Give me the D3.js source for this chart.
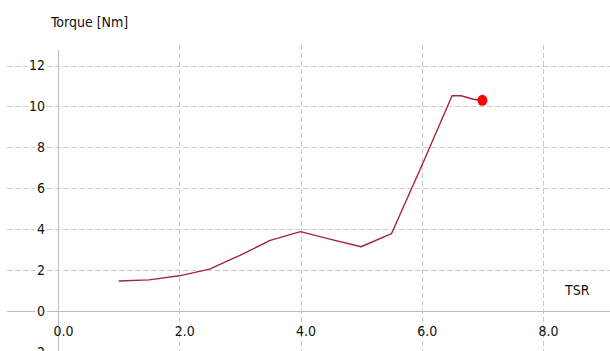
<!DOCTYPE html>
<html>
<head>
<meta charset="utf-8">
<script src="https://cdn.jsdelivr.net/npm/d3@7"></script>
<style>
  html, body { margin: 0; padding: 0; background: #fff; }
  svg { display: block; }
  text { font-family: "DejaVu Sans Condensed", "DejaVu Sans", sans-serif; fill: #111; }
</style>
</head>
<body>
<svg id="chart" width="610" height="351"></svg>
<script>
// Torque versus tip speed ratio
const tsr    = [1.0, 1.5, 2.0, 2.5, 3.0, 3.5, 4.0, 4.5, 5.0, 5.5, 6.0, 6.5, 6.65, 6.85, 7.0];
const torque = [1.47, 1.52, 1.72, 2.05, 2.72, 3.45, 3.88, 3.5, 3.14, 3.78, 7.1, 10.52, 10.52, 10.35, 10.3];
const xTicks = [0, 2, 4, 6, 8];
const xTickLabels = ["0.0", "2.0", "4.0", "6.0", "8.0"];
const yTicks = [-2, 0, 2, 4, 6, 8, 10, 12];
const yTickLabels = ["-2", "0", "2", "4", "6", "8", "10", "12"];
const yTitle = "Torque [Nm]";
const xTitle = "TSR";

const W = 610, H = 351;
const svg = d3.select("#chart");

const x = d3.scaleLinear().domain([0, 8]).range([58, 543]);
const y = d3.scaleLinear().domain([0, 12]).range([311, 65.5]);

const gridLeft = 7, gridTop = 45;
const gridColor = "#c9c9c9";

// horizontal grid lines (dashed), zero line solid
svg.append("g").selectAll("line")
  .data(yTicks)
  .join("line")
  .attr("x1", gridLeft).attr("x2", W)
  .attr("y1", d => Math.round(y(d)) + 0.5).attr("y2", d => Math.round(y(d)) + 0.5)
  .attr("stroke", d => d === 0 ? "#bdbdbd" : gridColor)
  .attr("stroke-width", 1)
  .attr("stroke-dasharray", d => d === 0 ? null : "5,3");

// vertical grid lines (dashed), zero line solid
svg.append("g").selectAll("line")
  .data(xTicks)
  .join("line")
  .attr("x1", d => Math.round(x(d)) + 0.5).attr("x2", d => Math.round(x(d)) + 0.5)
  .attr("y1", d => d === 0 ? 50 : gridTop).attr("y2", H)
  .attr("stroke", d => d === 0 ? "#bdbdbd" : gridColor)
  .attr("stroke-width", 1)
  .attr("stroke-dasharray", d => d === 0 ? null : "5,3");

// y tick labels
const yAxis = d3.axisLeft(y)
  .tickValues(yTicks)
  .tickSize(0)
  .tickPadding(0)
  .tickFormat((d, i) => yTickLabels[i]);
const gy = svg.append("g").attr("transform", "translate(45,0)").call(yAxis);
gy.select(".domain").remove();
gy.selectAll("text")
  .attr("font-size", 14)
  .attr("font-family", null)
  .style("fill", "#111");
gy.selectAll(".tick").each(function () {
  const t = d3.select(this).select("text").node();
  const b = t.getBBox();
  d3.select(this).insert("rect", "text")
    .attr("x", b.x - 2).attr("y", b.y + 1)
    .attr("width", b.width + 4).attr("height", b.height - 2)
    .attr("fill", "#fff");
});

// x tick labels
const xAxis = d3.axisBottom(x)
  .tickValues(xTicks)
  .tickSize(0)
  .tickPadding(0)
  .tickFormat((d, i) => xTickLabels[i]);
const gx = svg.append("g").attr("transform", "translate(0,326)").call(xAxis);
gx.select(".domain").remove();
gx.selectAll("text")
  .attr("font-size", 14)
  .attr("font-family", null)
  .attr("text-anchor", "start")
  .attr("x", -5)
  .attr("dy", "0.71em")
  .style("fill", "#111");

// axis titles
svg.append("text")
  .attr("x", 51).attr("y", 26.5)
  .attr("font-size", 14)
  .text(yTitle);
svg.append("text")
  .attr("x", 565).attr("y", 295)
  .attr("font-size", 14)
  .text(xTitle);

// torque curve
const pts = tsr.map((t, i) => [t, torque[i]]);
const line = d3.line().x(d => x(d[0])).y(d => y(d[1]));
svg.append("path")
  .datum(pts)
  .attr("d", line)
  .attr("fill", "none")
  .attr("stroke", "#a32638")
  .attr("stroke-width", 1.4)
  .attr("stroke-linejoin", "round");

// marker on the last point
const last = pts[pts.length - 1];
svg.append("ellipse")
  .attr("cx", x(last[0])).attr("cy", y(last[1]))
  .attr("rx", 5).attr("ry", 5.5)
  .attr("fill", "#f00");
</script>
</body>
</html>
